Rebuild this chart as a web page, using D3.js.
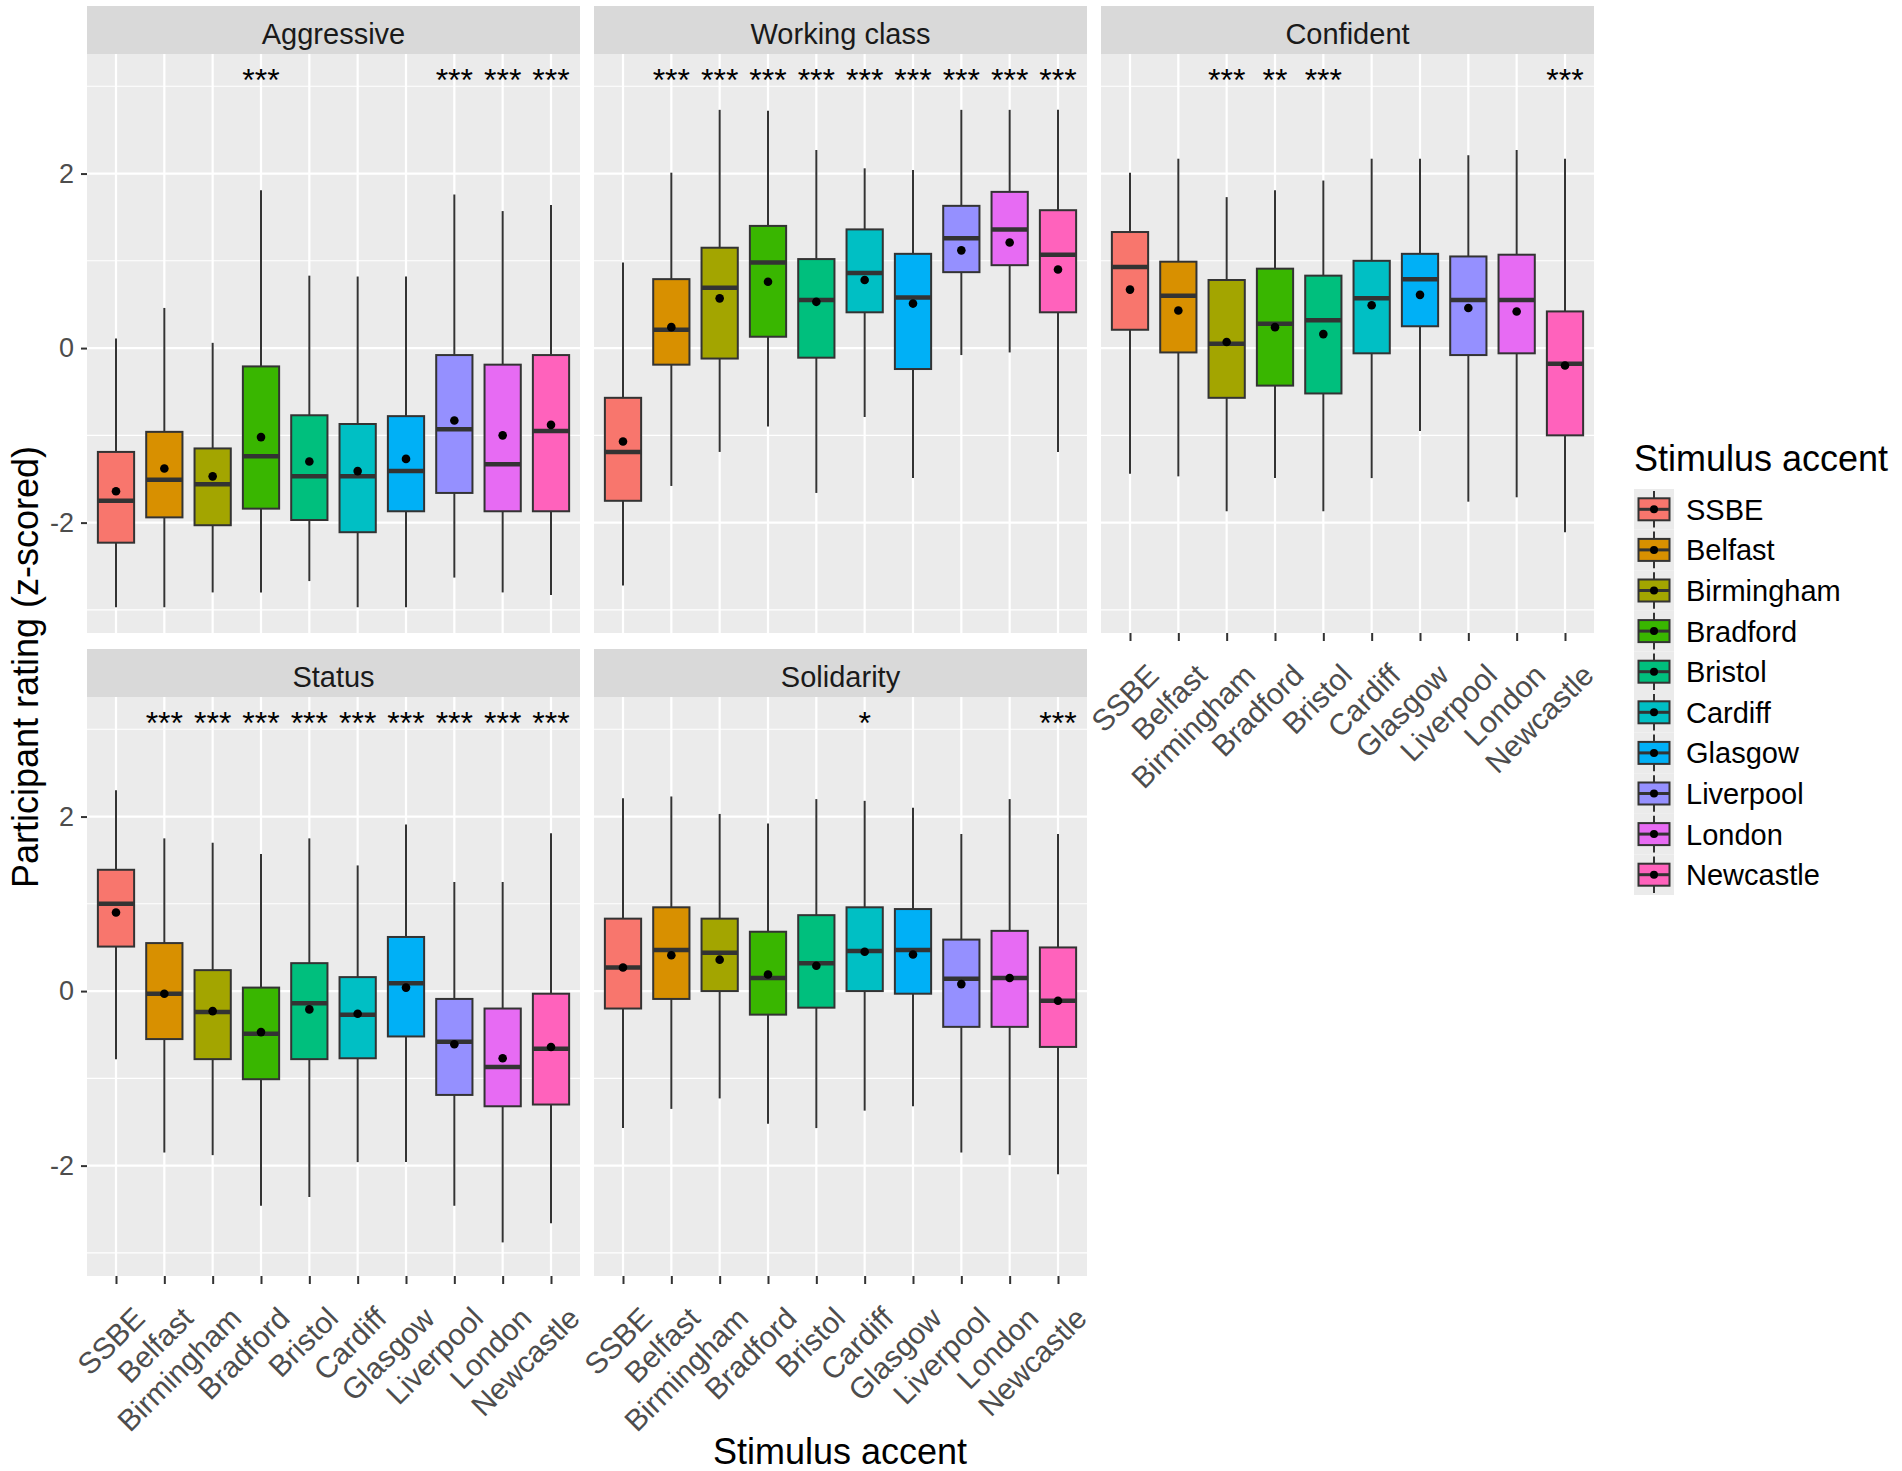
<!DOCTYPE html>
<html>
<head>
<meta charset="utf-8">
<script src="https://cdn.jsdelivr.net/npm/d3@7"></script>
<style>
  body { margin: 0; background: #fff; }
  text { font-family: "Liberation Sans", Arial, sans-serif; }
</style>
</head>
<body>
<div id="chart"></div>
<script>
// categories
var accents = ["SSBE", "Belfast", "Birmingham", "Bradford", "Bristol",
               "Cardiff", "Glasgow", "Liverpool", "London", "Newcastle"];
var traits = ["Aggressive", "Working class", "Confident", "Status", "Solidarity"];
var accentColors = ["#F8766D", "#D89000", "#A3A500", "#39B600", "#00BF7D",
                    "#00BFC4", "#00B0F6", "#9590FF", "#E76BF3", "#FF62BC"];

// each row: [lower whisker, Q1, median, Q3, upper whisker, mean], one row per accent
var aggressiveBox = [
  [-2.97, -2.23, -1.75, -1.19, 0.11, -1.64],
  [-2.97, -1.94, -1.51, -0.96, 0.46, -1.38],
  [-2.80, -2.03, -1.56, -1.15, 0.06, -1.47],
  [-2.80, -1.84, -1.24, -0.21, 1.81, -1.02],
  [-2.67, -1.97, -1.47, -0.77, 0.83, -1.30],
  [-2.97, -2.11, -1.47, -0.87, 0.82, -1.41],
  [-2.97, -1.87, -1.41, -0.78, 0.82, -1.27],
  [-2.63, -1.66, -0.93, -0.08, 1.76, -0.83],
  [-2.80, -1.87, -1.33, -0.19, 1.57, -1.00],
  [-2.83, -1.87, -0.95, -0.08, 1.64, -0.88]
];
var workingClassBox = [
  [-2.72, -1.75, -1.19, -0.57, 0.98, -1.07],
  [-1.58, -0.19, 0.21, 0.79, 2.01, 0.24],
  [-1.19, -0.12, 0.69, 1.15, 2.73, 0.57],
  [-0.90, 0.13, 0.98, 1.40, 2.72, 0.76],
  [-1.66, -0.11, 0.55, 1.02, 2.27, 0.53],
  [-0.79, 0.41, 0.86, 1.36, 2.06, 0.78],
  [-1.49, -0.24, 0.58, 1.08, 2.04, 0.51],
  [-0.08, 0.87, 1.26, 1.63, 2.73, 1.12],
  [-0.05, 0.95, 1.36, 1.79, 2.73, 1.21],
  [-1.19, 0.41, 1.07, 1.58, 2.73, 0.90]
];
var confidentBox = [
  [-1.44, 0.21, 0.93, 1.33, 2.01, 0.67],
  [-1.47, -0.05, 0.60, 0.99, 2.17, 0.43],
  [-1.87, -0.57, 0.05, 0.78, 1.73, 0.07],
  [-1.49, -0.43, 0.28, 0.91, 1.81, 0.24],
  [-1.87, -0.52, 0.32, 0.83, 1.92, 0.16],
  [-1.49, -0.06, 0.57, 1.00, 2.17, 0.49],
  [-0.95, 0.25, 0.79, 1.08, 2.17, 0.61],
  [-1.76, -0.08, 0.55, 1.05, 2.21, 0.46],
  [-1.71, -0.06, 0.55, 1.07, 2.27, 0.42],
  [-2.11, -1.00, -0.18, 0.42, 2.17, -0.20]
];
var statusBox = [
  [-0.78, 0.51, 1.00, 1.39, 2.30, 0.90],
  [-1.85, -0.55, -0.03, 0.55, 1.75, -0.03],
  [-1.88, -0.78, -0.24, 0.24, 1.70, -0.23],
  [-2.46, -1.01, -0.49, 0.04, 1.57, -0.47],
  [-2.36, -0.78, -0.14, 0.32, 1.75, -0.21],
  [-1.96, -0.77, -0.27, 0.16, 1.44, -0.26],
  [-1.96, -0.52, 0.09, 0.62, 1.91, 0.04],
  [-2.46, -1.19, -0.58, -0.09, 1.25, -0.61],
  [-2.88, -1.32, -0.87, -0.20, 1.25, -0.77],
  [-2.66, -1.30, -0.66, -0.03, 1.81, -0.64]
];
var solidarityBox = [
  [-1.57, -0.20, 0.27, 0.83, 2.21, 0.27],
  [-1.35, -0.09, 0.47, 0.96, 2.23, 0.41],
  [-1.23, 0.00, 0.44, 0.83, 2.03, 0.36],
  [-1.52, -0.27, 0.15, 0.68, 1.92, 0.19],
  [-1.57, -0.19, 0.32, 0.87, 2.20, 0.29],
  [-1.37, 0.00, 0.46, 0.96, 2.18, 0.45],
  [-1.32, -0.03, 0.47, 0.94, 2.10, 0.42],
  [-1.85, -0.41, 0.14, 0.59, 1.80, 0.08],
  [-1.88, -0.41, 0.15, 0.69, 2.20, 0.15],
  [-2.10, -0.64, -0.11, 0.50, 1.80, -0.11]
];

// significance labels vs SSBE
var aggressiveSig   = ["", "", "", "***", "", "", "", "***", "***", "***"];
var workingClassSig = ["", "***", "***", "***", "***", "***", "***", "***", "***", "***"];
var confidentSig    = ["", "", "***", "**", "***", "", "", "", "", "***"];
var statusSig       = ["", "***", "***", "***", "***", "***", "***", "***", "***", "***"];
var solidaritySig   = ["", "", "", "", "", "*", "", "", "", "***"];

var yTicks = [-2, 0, 2];
var yMinor = [-3, -1, 1, 3];
var sigY = 3.15;

var panelData = [aggressiveBox, workingClassBox, confidentBox, statusBox, solidarityBox];
var panelSig = [aggressiveSig, workingClassSig, confidentSig, statusSig, solidaritySig];

// layout
var width = 1902, height = 1471;
var panelW = 493, panelH = 579, stripH = 48;
var colX = [87, 594, 1101], rowTop = [6, 649];
var boxFrac = 0.75;

var svg = d3.select("#chart").append("svg")
    .attr("width", width)
    .attr("height", height);

svg.append("rect").attr("width", width).attr("height", height).attr("fill", "#fff");

var x = d3.scalePoint()
    .domain(accents)
    .range([0, panelW])
    .padding(0.6);
var boxW = x.step() * boxFrac;

traits.forEach(function(trait, p) {
  var col = p % 3, row = Math.floor(p / 3);
  var g = svg.append("g")
      .attr("transform", "translate(" + colX[col] + "," + rowTop[row] + ")");

  // strip
  g.append("rect")
      .attr("width", panelW).attr("height", stripH)
      .attr("fill", "#D9D9D9");
  g.append("text")
      .attr("x", panelW / 2).attr("y", 38)
      .attr("text-anchor", "middle")
      .style("font-size", "29px")
      .attr("fill", "#1A1A1A")
      .text(trait);

  var pg = g.append("g").attr("transform", "translate(0," + stripH + ")");
  var y = d3.scaleLinear().domain([-3.265, 3.37]).range([panelH, 0]);

  pg.append("rect")
      .attr("width", panelW).attr("height", panelH)
      .attr("fill", "#EBEBEB");

  // grid
  pg.selectAll(".minor").data(yMinor).enter().append("line")
      .attr("x1", 0).attr("x2", panelW)
      .attr("y1", function(d) { return y(d); })
      .attr("y2", function(d) { return y(d); })
      .attr("stroke", "#fff").attr("stroke-width", 1.1);
  pg.selectAll(".major").data(yTicks).enter().append("line")
      .attr("x1", 0).attr("x2", panelW)
      .attr("y1", function(d) { return y(d); })
      .attr("y2", function(d) { return y(d); })
      .attr("stroke", "#fff").attr("stroke-width", 2.2);
  pg.selectAll(".vgrid").data(accents).enter().append("line")
      .attr("x1", function(d) { return x(d); })
      .attr("x2", function(d) { return x(d); })
      .attr("y1", 0).attr("y2", panelH)
      .attr("stroke", "#fff").attr("stroke-width", 2.2);

  var rows = panelData[p].map(function(r, i) {
    return {acc: accents[i], col: accentColors[i], lo: r[0], q1: r[1], med: r[2], q3: r[3], hi: r[4], mean: r[5]};
  });

  var b = pg.selectAll(".box").data(rows).enter().append("g");
  // whiskers
  b.append("line")
      .attr("x1", function(d) { return x(d.acc); })
      .attr("x2", function(d) { return x(d.acc); })
      .attr("y1", function(d) { return y(d.hi); })
      .attr("y2", function(d) { return y(d.q3); })
      .attr("stroke", "#333").attr("stroke-width", 2);
  b.append("line")
      .attr("x1", function(d) { return x(d.acc); })
      .attr("x2", function(d) { return x(d.acc); })
      .attr("y1", function(d) { return y(d.q1); })
      .attr("y2", function(d) { return y(d.lo); })
      .attr("stroke", "#333").attr("stroke-width", 2);
  // box
  b.append("rect")
      .attr("x", function(d) { return x(d.acc) - boxW / 2; })
      .attr("width", boxW)
      .attr("y", function(d) { return y(d.q3); })
      .attr("height", function(d) { return y(d.q1) - y(d.q3); })
      .attr("fill", function(d) { return d.col; })
      .attr("stroke", "#333").attr("stroke-width", 2);
  // median
  b.append("line")
      .attr("x1", function(d) { return x(d.acc) - boxW / 2; })
      .attr("x2", function(d) { return x(d.acc) + boxW / 2; })
      .attr("y1", function(d) { return y(d.med); })
      .attr("y2", function(d) { return y(d.med); })
      .attr("stroke", "#333").attr("stroke-width", 4.5);
  // mean
  b.append("circle")
      .attr("cx", function(d) { return x(d.acc); })
      .attr("cy", function(d) { return y(d.mean); })
      .attr("r", 4.3)
      .attr("fill", "#000");

  // significance stars
  pg.selectAll(".sig").data(panelSig[p]).enter().append("text")
      .attr("x", function(d, i) { return x(accents[i]); })
      .attr("y", y(sigY) + 0.57 * 32)
      .attr("text-anchor", "middle")
      .style("font-size", "32px")
      .attr("fill", "#000")
      .text(function(d) { return d; });

  // y axis on left column
  if (col === 0) {
    var ya = pg.append("g")
        .call(d3.axisLeft(y).tickValues(yTicks).tickSize(6).tickPadding(7)
          .tickFormat(function(d) { return String(d); }));
    ya.select(".domain").remove();
    ya.selectAll("line").attr("stroke", "#333").attr("stroke-width", 2);
    ya.selectAll("text")
        .style("font-size", "27px")
        .attr("fill", "#4D4D4D")
        .attr("font-family", null);
  }

  // x axis where no panel below
  if (row === 1 || p === 2) {
    var xa = pg.append("g")
        .attr("transform", "translate(0," + panelH + ")")
        .call(d3.axisBottom(x).tickSize(8).tickPadding(0));
    xa.select(".domain").remove();
    xa.selectAll("line").attr("stroke", "#333").attr("stroke-width", 2);
    xa.selectAll("text")
        .style("font-size", "30px")
        .attr("fill", "#4D4D4D")
        .attr("font-family", null)
        .attr("y", 0)
        .attr("dy", "1.42em")
        .style("text-anchor", "end")
        .attr("transform", "translate(0,14) rotate(-45)");
  }
});

// axis titles
svg.append("text")
    .attr("x", 840).attr("y", 1464)
    .attr("text-anchor", "middle")
    .style("font-size", "36px")
    .attr("fill", "#000")
    .text("Stimulus accent");

svg.append("text")
    .attr("transform", "translate(38,667) rotate(-90)")
    .attr("text-anchor", "middle")
    .style("font-size", "36px")
    .attr("fill", "#000")
    .text("Participant rating (z-scored)");

// legend
var legX = 1634, legTop = 489, keyH = 40.6, keyW = 40;
var leg = svg.append("g");
leg.append("text")
    .attr("x", legX).attr("y", 471)
    .style("font-size", "36px")
    .attr("fill", "#000")
    .text("Stimulus accent");

var items = leg.selectAll(".item").data(accents).enter().append("g")
    .attr("transform", function(d, i) { return "translate(" + legX + "," + (legTop + i * keyH) + ")"; });
items.append("rect")
    .attr("width", keyW).attr("height", keyH)
    .attr("fill", "#EBEBEB");
items.append("line")
    .attr("x1", keyW / 2).attr("x2", keyW / 2)
    .attr("y1", 2).attr("y2", keyH - 2)
    .attr("stroke", "#333").attr("stroke-width", 2);
items.append("rect")
    .attr("x", 4.5).attr("width", keyW - 9)
    .attr("y", keyH / 2 - 11).attr("height", 22)
    .attr("fill", function(d, i) { return accentColors[i]; })
    .attr("stroke", "#333").attr("stroke-width", 2);
items.append("line")
    .attr("x1", 4.5).attr("x2", keyW - 4.5)
    .attr("y1", keyH / 2).attr("y2", keyH / 2)
    .attr("stroke", "#333").attr("stroke-width", 3);
items.append("circle")
    .attr("cx", keyW / 2).attr("cy", keyH / 2).attr("r", 4)
    .attr("fill", "#000");
items.append("text")
    .attr("x", 52).attr("y", keyH / 2)
    .attr("dy", "0.36em")
    .style("font-size", "29px")
    .attr("fill", "#000")
    .text(function(d) { return d; });
</script>
</body>
</html>
